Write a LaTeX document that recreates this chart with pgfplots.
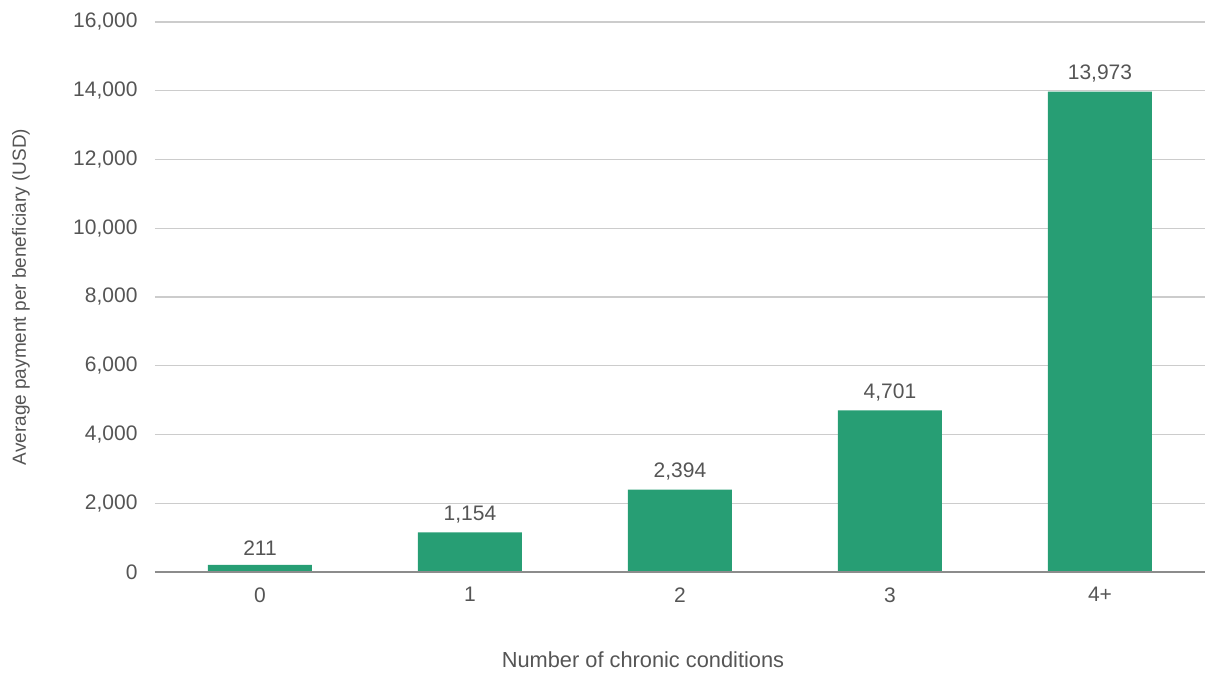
\documentclass[border=0pt]{standalone}
\usepackage{fontspec}
\setmainfont{Liberation Sans}
\usepackage{pgfplots}
\pgfplotsset{compat=1.18}
\definecolor{barg}{HTML}{279E74}
\definecolor{txt}{HTML}{555555}
\begin{document}
\begin{tikzpicture}
\begin{axis}[
  at={(0,0)}, anchor=south west,
  scale only axis, width=1050pt, height=550pt,
  xmin=-0.5, xmax=4.5, ymin=0, ymax=16000,
  ytick={0,2000,...,16000},
  xtick=data, xticklabels={0,1,2,3,4+},
  axis line style={draw=none},
  major tick length=0pt,
  ymajorgrids, grid style={draw=black!20, line width=1.2pt},
  /pgf/number format/assume math mode=true,
  /pgf/number format/1000 sep={,},
  scaled y ticks=false,
  tick label style={font=\fontsize{21}{24}\selectfont, text=txt},
  yticklabel style={xshift=-14pt},
  xticklabel style={yshift=-12pt},
  xlabel={Number of chronic conditions},
  ylabel={Average payment per beneficiary (USD)},
  xlabel style={font=\fontsize{21.8}{24}\selectfont, text=txt, at={(axis description cs:0.5,0)}, anchor=center, yshift=-88pt, xshift=-37pt},
  ylabel style={font=\fontsize{19}{22}\selectfont, text=txt, at={(axis description cs:0,0.5)}, anchor=center, rotate=0, yshift=134pt},
  ybar, bar width=104pt,
  nodes near coords,
  nodes near coords style={font=\fontsize{21}{24}\selectfont, text=txt, yshift=6pt, /pgf/number format/1000 sep={,}},
  clip=false,
]
\addplot[fill=barg, draw=none] coordinates {(0,211) (1,1154) (2,2394) (3,4701) (4,13973)};
\draw[black!45, line width=1.2pt] (axis cs:-0.5,0) -- (axis cs:4.5,0);
\end{axis}
\pgfresetboundingbox
\path[use as bounding box] (-155pt,-101pt) rectangle (1051pt,572pt);
\end{tikzpicture}
\end{document}
